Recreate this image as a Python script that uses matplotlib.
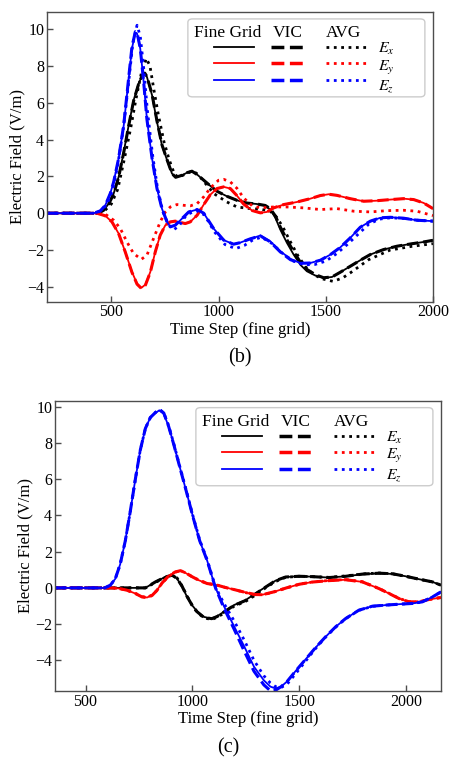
import numpy as np
import matplotlib
matplotlib.use("Agg")
import matplotlib.pyplot as plt
from matplotlib.patches import FancyBboxPatch
from matplotlib.ticker import MultipleLocator

plt.rcParams['font.family'] = ['Liberation Serif', 'DejaVu Serif']
plt.rcParams['mathtext.fontset'] = 'stix'

# ---------------- panel (b) ----------------
x_ex_b = [200, 430, 449, 464, 488, 511, 534, 558, 581, 604, 627, 645, 656, 666, 690, 713, 736, 760,
          783, 800, 830, 853, 876, 900, 931, 962, 993, 1039, 1086, 1133, 1179, 1218, 1241, 1265, 1288,
          1319, 1350, 1381, 1412, 1451, 1490, 1529, 1568, 1614, 1661, 1708, 1770, 1832, 1894, 1956, 2000]
ex_fine_b = [0, 0, 0.06, 0.16, 0.52, 1.07, 1.97, 3.33, 4.77, 6.13, 7.03, 7.5, 7.6, 7.4, 6.4, 4.95, 3.69, 2.88,
             2.15, 1.95, 2.06, 2.2, 2.28, 2.1, 1.79, 1.48, 1.19, 0.92, 0.7, 0.55, 0.5, 0.41, 0.2, -0.25, -0.89,
             -1.61, -2.24, -2.79, -3.15, -3.38, -3.51, -3.46, -3.2, -2.88, -2.55, -2.24, -1.97, -1.79, -1.67, -1.56, -1.47]
ex_vic_b = [0, 0, 0.06, 0.16, 0.5, 1.05, 1.95, 3.3, 4.75, 6.1, 7.0, 7.5, 7.6, 7.42, 6.45, 5.0, 3.72, 2.9,
            2.15, 1.95, 2.06, 2.2, 2.28, 2.1, 1.79, 1.48, 1.19, 0.92, 0.7, 0.55, 0.5, 0.42, 0.25, -0.15, -0.75,
            -1.45, -2.08, -2.65, -3.05, -3.33, -3.5, -3.46, -3.2, -2.88, -2.55, -2.24, -1.97, -1.79, -1.67, -1.56, -1.47]
x_exavg_b = [200, 440, 470, 500, 530, 560, 590, 615, 640, 663, 680, 700, 720, 745, 770, 795, 815, 850, 880, 905,
             940, 980, 1039, 1086, 1148, 1195, 1241, 1270, 1300, 1335, 1370, 1405, 1440, 1480, 1535, 1580, 1614,
             1700, 1800, 1900, 2000]
ex_avg_b = [0, 0, 0.15, 0.5, 1.3, 2.9, 4.6, 6.2, 7.6, 8.4, 8.0, 6.6, 5.3, 3.9, 2.9, 2.1, 1.95, 2.15, 2.3, 2.1,
            1.6, 1.05, 0.61, 0.34, 0.25, 0.22, 0.11, -0.2, -0.75, -1.55, -2.3, -2.9, -3.3, -3.55, -3.7, -3.5, -3.24,
            -2.52, -2.0, -1.8, -1.65]

x_ey_b = [200, 433, 472, 503, 534, 565, 596, 620, 640, 659, 682, 705, 728, 752, 775, 798, 822, 845, 868, 900,
          931, 962, 993, 1024, 1055, 1086, 1117, 1156, 1195, 1226, 1257, 1304, 1366, 1428, 1475, 1514, 1552,
          1614, 1677, 1739, 1801, 1863, 1910, 1956, 2000]
ey_fine_b = [0, 0, -0.14, -0.47, -1.1, -2.1, -3.18, -3.82, -4.05, -3.87, -3.18, -2.1, -1.19, -0.65, -0.47, -0.43,
             -0.5, -0.56, -0.47, -0.11, 0.47, 1.01, 1.34, 1.43, 1.34, 0.95, 0.5, 0.15, 0.02, 0.07, 0.29, 0.47,
             0.61, 0.79, 0.96, 1.03, 0.97, 0.79, 0.65, 0.68, 0.74, 0.79, 0.74, 0.56, 0.25]
ey_vic_b = [0, 0, -0.14, -0.47, -1.1, -2.1, -3.2, -3.85, -4.08, -3.9, -3.2, -2.1, -1.19, -0.65, -0.47, -0.43,
            -0.5, -0.56, -0.47, -0.11, 0.47, 1.01, 1.34, 1.43, 1.34, 0.95, 0.5, 0.15, 0.02, 0.07, 0.29, 0.47,
            0.61, 0.79, 0.96, 1.03, 0.97, 0.79, 0.65, 0.68, 0.74, 0.79, 0.74, 0.56, 0.25]
x_eyavg_b = [200, 440, 472, 511, 542, 573, 604, 640, 666, 697, 728, 752, 775, 806, 837, 868, 900, 931, 962,
             1000, 1024, 1055, 1086, 1117, 1156, 1195, 1257, 1319, 1397, 1475, 1552, 1630, 1708, 1785, 1863, 1925, 2000]
ey_avg_b = [0, 0, -0.05, -0.38, -0.83, -1.56, -2.19, -2.5, -2.28, -1.37, -0.47, 0.07, 0.34, 0.47, 0.43, 0.4,
            0.52, 0.89, 1.37, 1.79, 1.84, 1.7, 1.35, 0.83, 0.41, 0.29, 0.34, 0.34, 0.29, 0.2, 0.25, 0.11, 0.07,
            0.14, 0.16, 0.11, -0.13]

x_ez_b = [200, 418, 449, 472, 495, 511, 534, 558, 581, 596, 612, 620, 635, 651, 666, 690, 713, 736, 760, 775,
          798, 822, 861, 900, 931, 977, 1024, 1070, 1100, 1148, 1195, 1241, 1288, 1335, 1381, 1428, 1475, 1521,
          1568, 1614, 1661, 1708, 1754, 1801, 1863, 1925, 2000]
ez_fine_b = [0, 0, 0.13, 0.43, 1.07, 1.7, 2.97, 4.77, 7.3, 8.93, 9.8, 9.75, 8.93, 7.1, 5.1, 2.97, 1.34, 0.25,
             -0.47, -0.74, -0.65, -0.38, 0.07, 0.2, 0.0, -0.83, -1.46, -1.68, -1.6, -1.39, -1.21, -1.52, -2.06,
             -2.48, -2.7, -2.7, -2.55, -2.25, -1.85, -1.34, -0.76, -0.43, -0.25, -0.22, -0.27, -0.38, -0.43]
ez_vic_b = [0, 0, 0.13, 0.43, 1.07, 1.7, 2.97, 4.8, 7.35, 9.0, 9.85, 9.8, 8.95, 7.1, 5.1, 2.97, 1.34, 0.25,
            -0.47, -0.74, -0.65, -0.38, 0.07, 0.2, 0.0, -0.83, -1.46, -1.68, -1.6, -1.39, -1.23, -1.55, -2.1,
            -2.52, -2.72, -2.7, -2.55, -2.25, -1.85, -1.34, -0.76, -0.43, -0.25, -0.22, -0.27, -0.38, -0.43]
x_ezavg_b = [200, 425, 455, 480, 505, 530, 555, 580, 600, 620, 635, 650, 668, 692, 715, 740, 765, 790, 815, 850,
             895, 935, 980, 1030, 1080, 1120, 1160, 1200, 1250, 1300, 1350, 1400, 1450, 1500, 1550, 1600, 1650,
             1700, 1750, 1800, 1860, 1930, 2000]
ez_avg_b = [0, 0, 0.15, 0.5, 1.2, 2.6, 4.5, 7.0, 9.2, 10.2, 9.6, 8.0, 5.6, 3.2, 1.4, 0.1, -0.6, -0.9, -0.7, -0.1,
            0.15, -0.1, -1.0, -1.7, -1.92, -1.75, -1.45, -1.3, -1.65, -2.2, -2.6, -2.8, -2.78, -2.6, -2.2, -1.7,
            -1.15, -0.6, -0.32, -0.25, -0.28, -0.38, -0.43]

# ---------------- panel (c) ----------------
x_ex_c = [357, 780, 827, 873, 905, 928, 952, 975, 998, 1022, 1053, 1090, 1116, 1147, 1194, 1248, 1295, 1342,
          1389, 1436, 1498, 1560, 1639, 1717, 1795, 1873, 1935, 1998, 2060, 2123, 2163]
ex_fine_c = [0, 0, 0.33, 0.6, 0.7, 0.51, 0.06, -0.5, -0.95, -1.3, -1.6, -1.69, -1.56, -1.32, -0.95, -0.68,
             -0.31, 0.05, 0.4, 0.6, 0.64, 0.62, 0.57, 0.64, 0.75, 0.8, 0.77, 0.64, 0.48, 0.33, 0.15]
ex_vic_c = [0, 0, 0.33, 0.6, 0.7, 0.52, 0.08, -0.48, -0.95, -1.32, -1.62, -1.7, -1.58, -1.34, -0.97, -0.7,
            -0.33, 0.04, 0.4, 0.6, 0.64, 0.62, 0.57, 0.64, 0.76, 0.81, 0.78, 0.64, 0.48, 0.33, 0.15]
ex_avg_c = [0, 0, 0.3, 0.58, 0.7, 0.55, 0.1, -0.45, -0.95, -1.35, -1.65, -1.75, -1.62, -1.4, -1.02, -0.75,
            -0.4, 0.0, 0.35, 0.58, 0.64, 0.62, 0.58, 0.66, 0.77, 0.82, 0.78, 0.64, 0.48, 0.33, 0.15]

x_ey_c = [357, 620, 655, 694, 733, 764, 788, 811, 834, 858, 889, 920, 944, 967, 998, 1030, 1069, 1116, 1155,
          1194, 1248, 1295, 1330, 1381, 1440, 1500, 1560, 1639, 1717, 1795, 1873, 1920, 1967, 2014, 2060, 2107, 2163]
ey_fine_c = [0, 0, -0.03, -0.13, -0.31, -0.5, -0.53, -0.4, -0.13, 0.28, 0.66, 0.88, 0.94, 0.83, 0.61, 0.42,
             0.24, 0.15, 0.02, -0.09, -0.25, -0.37, -0.37, -0.22, 0.0, 0.2, 0.32, 0.4, 0.45, 0.33, -0.04, -0.31,
             -0.59, -0.77, -0.77, -0.64, -0.53]
ey_vic_c = [0, 0, -0.03, -0.13, -0.31, -0.5, -0.54, -0.42, -0.14, 0.27, 0.66, 0.88, 0.95, 0.84, 0.62, 0.42,
            0.24, 0.15, 0.02, -0.09, -0.25, -0.37, -0.37, -0.22, 0.0, 0.2, 0.32, 0.4, 0.45, 0.33, -0.04, -0.31,
            -0.59, -0.77, -0.77, -0.64, -0.53]
ey_avg_c = [0, 0, -0.03, -0.13, -0.3, -0.48, -0.52, -0.4, -0.14, 0.26, 0.64, 0.87, 0.94, 0.84, 0.62, 0.43,
            0.25, 0.15, 0.02, -0.09, -0.26, -0.38, -0.38, -0.23, 0.0, 0.2, 0.32, 0.41, 0.46, 0.34, -0.03, -0.3,
            -0.58, -0.76, -0.77, -0.64, -0.53]

x_ez_c = [357, 590, 616, 639, 662, 686, 709, 733, 756, 780, 803, 827, 845, 866, 889, 913, 940, 972, 1003, 1034,
          1069, 1108, 1147, 1194, 1241, 1288, 1334, 1365, 1389, 1415, 1444, 1482, 1529, 1576, 1623, 1670, 1717,
          1779, 1842, 1904, 1967, 2029, 2076, 2123, 2163]
ez_fine_c = [0, 0, 0.15, 0.5, 1.3, 2.6, 4.2, 6.0, 7.6, 8.8, 9.4, 9.65, 9.8, 9.6, 8.9, 7.9, 6.7, 5.3, 3.9, 2.6,
             1.5, 0.0, -1.0, -2.1, -3.2, -4.35, -5.1, -5.45, -5.55, -5.45, -5.15, -4.6, -3.95, -3.3, -2.7, -2.15,
             -1.69, -1.23, -1.01, -0.95, -0.9, -0.86, -0.77, -0.5, -0.22]
ez_vic_c = [0, 0, 0.15, 0.5, 1.3, 2.6, 4.2, 6.0, 7.6, 8.8, 9.4, 9.68, 9.85, 9.65, 8.9, 7.9, 6.7, 5.3, 3.9, 2.6,
            1.5, 0.0, -1.1, -2.25, -3.45, -4.6, -5.35, -5.68, -5.65, -5.45, -5.15, -4.6, -3.95, -3.3, -2.7, -2.15,
            -1.69, -1.23, -1.01, -0.95, -0.9, -0.86, -0.77, -0.5, -0.22]
ez_avg_c = [0, 0, 0.15, 0.5, 1.3, 2.6, 4.2, 6.0, 7.6, 8.8, 9.4, 9.68, 9.85, 9.65, 8.95, 7.95, 6.75, 5.35, 3.95,
            2.65, 1.55, 0.05, -0.85, -1.8, -2.85, -4.0, -4.85, -5.25, -5.45, -5.5, -5.3, -4.75, -4.05, -3.35,
            -2.72, -2.17, -1.7, -1.24, -1.02, -0.95, -0.9, -0.86, -0.77, -0.5, -0.22]

colors = ['black', 'red', 'blue']
comp_labels = [r'$E_x$', r'$E_y$', r'$E_z$']
method_names = ['Fine Grid', 'VIC', 'AVG']

panel_b = [
    (x_ex_b, ex_fine_b, ex_vic_b, x_exavg_b, ex_avg_b),
    (x_ey_b, ey_fine_b, ey_vic_b, x_eyavg_b, ey_avg_b),
    (x_ez_b, ez_fine_b, ez_vic_b, x_ezavg_b, ez_avg_b),
]
panel_c = [
    (x_ex_c, ex_fine_c, ex_vic_c, x_ex_c, ex_avg_c),
    (x_ey_c, ey_fine_c, ey_vic_c, x_ey_c, ey_avg_c),
    (x_ez_c, ez_fine_c, ez_vic_c, x_ez_c, ez_avg_c),
]


def draw_key(ax):
    # hand-made legend: header row + three rows of line samples
    box = FancyBboxPatch((0.365, 0.707), 0.614, 0.269, transform=ax.transAxes,
                         boxstyle="round,pad=0,rounding_size=0.012",
                         facecolor='white', edgecolor='0.8', linewidth=1.0, zorder=5)
    ax.add_patch(box)
    for xh, name in zip([0.381, 0.585, 0.723], method_names):
        ax.text(xh, 0.927, name, transform=ax.transAxes, ha='left', va='center',
                fontsize=12.5, zorder=6)
    rows = [0.879, 0.824, 0.765]
    lab_off = [0.006, 0.016, 0.022]
    for yr, off, col, lab in zip(rows, lab_off, colors, comp_labels):
        ax.plot([0.433, 0.536], [yr, yr], transform=ax.transAxes, color=col, lw=1.3, zorder=6)
        ax.plot([0.580, 0.674], [yr, yr], transform=ax.transAxes, color=col, lw=2.5, ls='--', zorder=6)
        ax.plot([0.723, 0.829], [yr, yr], transform=ax.transAxes, color=col, lw=2.0, ls=':', zorder=6)
        ax.text(0.858, yr - off, lab, transform=ax.transAxes, ha='left', va='center',
                fontsize=11.5, zorder=6)


def draw_panel(ax, panel, xlim, ylim):
    for (xf, yf, yv, xa, ya), col in zip(panel, colors):
        ax.plot(xf, yf, color=col, lw=1.3, ls='-')
        ax.plot(xf, yv, color=col, lw=2.2, ls='--')
        ax.plot(xa, ya, color=col, lw=2.0, ls=':')
    ax.set_xlim(*xlim)
    ax.set_ylim(*ylim)
    ax.xaxis.set_major_locator(MultipleLocator(500))
    ax.yaxis.set_major_locator(MultipleLocator(2))
    ax.tick_params(axis='both', direction='in', length=4, width=1.0, color='0.3',
                   labelsize=11.5, pad=2)
    for s in ax.spines.values():
        s.set_color('0.3')
        s.set_linewidth(1.0)
    ax.set_xlabel('Time Step (fine grid)', fontsize=12, labelpad=1)
    ax.set_ylabel('Electric Field (V/m)', fontsize=12, labelpad=1.5)
    draw_key(ax)


fig = plt.figure(figsize=(4.5, 7.58), dpi=100)
ax_b = fig.add_axes([0.1044, 0.602, 0.8578, 0.3822])
ax_c = fig.add_axes([0.1222, 0.0884, 0.8578, 0.383])

draw_panel(ax_b, panel_b, (200, 2000), (-4.8, 10.92))
draw_panel(ax_c, panel_c, (357, 2163), (-5.69, 10.33))

fig.text(0.533, 0.528, '(b)', ha='center', va='center', fontsize=14.5)
fig.text(0.507, 0.013, '(c)', ha='center', va='center', fontsize=14.5)

fig.savefig('out.png', dpi=100)
